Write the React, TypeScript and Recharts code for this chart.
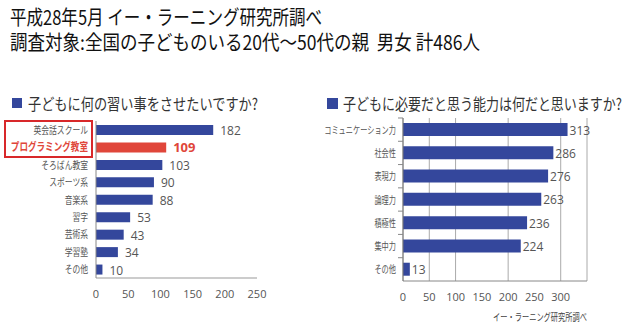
import { BarChart, Bar, Cell, XAxis, YAxis, CartesianGrid, LabelList } from "recharts"

const headerLines = [
  "平成28年5月 イー・ラーニング研究所調べ",
  "調査対象:全国の子どものいる20代～50代の親\u00a0\u00a0男女 計486人",
]

const learnTitle = "子どもに何の習い事をさせたいですか?"
const learnCategories = [
  "英会話スクール",
  "プログラミング教室",
  "そろばん教室",
  "スポーツ系",
  "音楽系",
  "習字",
  "芸術系",
  "学習塾",
  "その他",
]
const learnValues = [182, 109, 103, 90, 88, 53, 43, 34, 10]
const learnTicks = [0, 50, 100, 150, 200, 250]
const highlight = "プログラミング教室"

const abilityTitle = "子どもに必要だと思う能力は何だと思いますか?"
const abilityCategories = ["コミュニケーション力", "社会性", "表現力", "論理力", "積極性", "集中力", "その他"]
const abilityValues = [313, 286, 276, 263, 236, 224, 13]
const abilityTicks = [0, 50, 100, 150, 200, 250, 300, 350]

const source = "イー・ラーニング研究所調べ"

const BLUE = "#34479c"
const RED = "#e0463a"
const JP = '"Noto Sans CJK JP", sans-serif'
const NUM = '"Open Sans", sans-serif'

const learnData = learnCategories.map((name, i) => ({ name, value: learnValues[i] }))
const abilityData = abilityCategories.map((name, i) => ({ name, value: abilityValues[i] }))

// squeezed japanese label, like the narrow font in the source image
function NarrowTick(props: any) {
  const { x, y, payload, size = 10, squeeze = 0.8, band = 0 } = props
  const hot = payload.value === highlight
  return (
    <g>
      {band > 0 && (
        <line x1={x + 2} x2={x + 7} y1={y - band / 2} y2={y - band / 2} stroke="#888" />
      )}
      <g transform={`translate(${x},${y}) scale(${squeeze},1)`}>
        <text
          textAnchor="end"
          dy={4}
          fontFamily={JP}
          fontSize={hot ? 11 : size}
          fontWeight={hot ? 700 : 400}
          fill={hot ? RED : "#555"}
        >
          {payload.value}
        </text>
      </g>
    </g>
  )
}

function LearnValue(props: any) {
  const { x, y, width, height, value, index } = props
  const hot = learnCategories[index] === highlight
  return (
    <text
      x={x + width + 7}
      y={y + height / 2 + 5}
      fontFamily={NUM}
      fontSize={hot ? 13 : 12}
      fontWeight={hot ? 700 : 400}
      fill={hot ? RED : "#555"}
    >
      {value}
    </text>
  )
}

function AbilityValue(props: any) {
  const { x, y, width, height, value } = props
  return (
    <text x={x + width + 2} y={y + height / 2 + 5} fontFamily={NUM} fontSize={12} fill="#555">
      {value}
    </text>
  )
}

export default function App() {
  return (
    <div style={{ position: "relative", width: 635, height: 333, background: "#fff", overflow: "hidden" }}>
      <style>{`body{margin:0}`}</style>

      <svg width={635} height={333} style={{ position: "absolute", left: 0, top: 0 }}>
        <text x={10} y={25} fontFamily={JP} fontSize={20} fill="#111" textLength={312} lengthAdjust="spacingAndGlyphs">
          {headerLines[0]}
        </text>
        <text x={10} y={50} fontFamily={JP} fontSize={20} fill="#111" textLength={470} lengthAdjust="spacingAndGlyphs">
          {headerLines[1]}
        </text>

        <rect x={12} y={98} width={10} height={10} fill={BLUE} />
        <text x={28} y={110} fontFamily={JP} fontSize={16} fill="#333" textLength={230} lengthAdjust="spacingAndGlyphs">
          {learnTitle}
        </text>
        <rect x={327} y={98} width={11} height={11} fill={BLUE} />
        <text x={343} y={110} fontFamily={JP} fontSize={16} fill="#333" textLength={279} lengthAdjust="spacingAndGlyphs">
          {abilityTitle}
        </text>

        <rect x={5} y={121} width={87} height={36} fill="none" stroke="#d8282a" strokeWidth={2} />

        <text x={493} y={321} fontFamily={JP} fontSize={10} fill="#444" textLength={94} lengthAdjust="spacingAndGlyphs">
          {source}
        </text>
      </svg>

      <div style={{ position: "absolute", left: 0, top: 0 }}>
        <BarChart
          width={320}
          height={333}
          data={learnData}
          layout="vertical"
          margin={{ top: 121, right: 63, left: 0, bottom: 25 }}
        >
          <XAxis
            type="number"
            domain={[0, 250]}
            ticks={learnTicks}
            tickLine={false}
            axisLine={{ stroke: "#999" }}
            tick={{ fontSize: 11, fill: "#555", fontFamily: NUM }}
            tickMargin={6}
            height={30}
          />
          <YAxis
            type="category"
            dataKey="name"
            width={96}
            tickLine={false}
            tickSize={0}
            tickMargin={8}
            axisLine={{ stroke: "#888" }}
            tick={<NarrowTick size={10} squeeze={0.78} />}
            interval={0}
          />
          <Bar dataKey="value" barSize={10} isAnimationActive={false}>
            {learnData.map((d) => (
              <Cell key={d.name} fill={d.name === highlight ? RED : BLUE} />
            ))}
            <LabelList dataKey="value" content={<LearnValue />} />
          </Bar>
        </BarChart>
      </div>

      <div style={{ position: "absolute", left: 320, top: 0 }}>
        <BarChart
          width={315}
          height={333}
          data={abilityData}
          layout="vertical"
          margin={{ top: 118, right: 48, left: 0, bottom: 22 }}
        >
          <CartesianGrid horizontal={false} stroke="#aaa" />
          <XAxis
            type="number"
            domain={[0, 350]}
            ticks={abilityTicks}
            tickFormatter={(v: number) => (v === 350 ? "" : String(v))}
            tickLine={false}
            axisLine={{ stroke: "#888" }}
            tick={{ fontSize: 11, fill: "#555", fontFamily: NUM }}
            tickMargin={6}
            height={30}
          />
          <YAxis
            type="category"
            dataKey="name"
            width={83}
            tickLine={false}
            tickSize={0}
            tickMargin={7}
            axisLine={{ stroke: "#777" }}
            tick={<NarrowTick size={10} squeeze={0.72} band={23.3} />}
            interval={0}
          />
          <Bar dataKey="value" fill={BLUE} barSize={13} isAnimationActive={false}>
            <LabelList dataKey="value" content={<AbilityValue />} />
          </Bar>
        </BarChart>
      </div>
    </div>
  )
}
